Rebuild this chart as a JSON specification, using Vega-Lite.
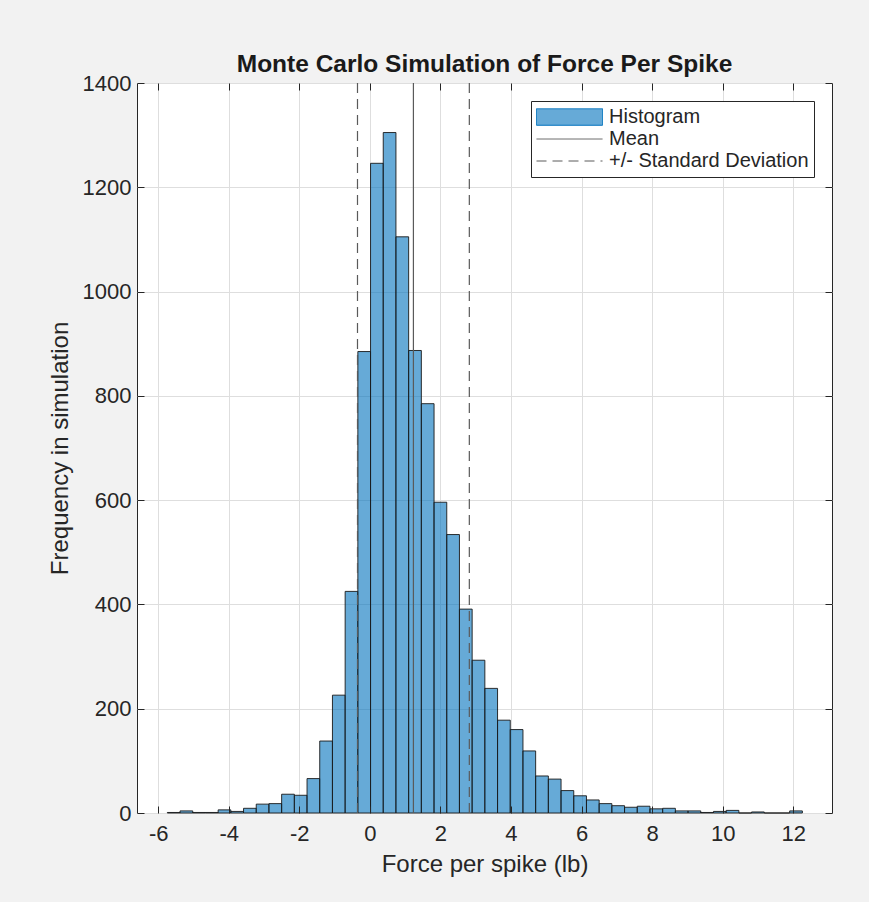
{
  "$schema": "https://vega.github.io/schema/vega-lite/v6.json",
  "autosize": {"type": "none"},
  "width": 695,
  "height": 730,
  "padding": {"left": 137, "top": 83, "right": 37, "bottom": 89},
  "background": "#f2f2f2",
  "config": {
    "view": {"fill": "white", "stroke": "#262626", "strokeWidth": 1},
    "font": "Liberation Sans"
  },
  "title": {
    "text": "Monte Carlo Simulation of Force Per Spike",
    "font": "Liberation Sans",
    "fontSize": 24.5,
    "fontWeight": "bold",
    "color": "#1a1a1a",
    "anchor": "middle",
    "frame": "group",
    "offset": -5
  },
  "datasets": {
    "bins": [
      {"bin_start": -5.74, "bin_end": -5.38, "count": 1},
      {"bin_start": -5.38, "bin_end": -5.02, "count": 4},
      {"bin_start": -5.02, "bin_end": -4.66, "count": 1},
      {"bin_start": -4.66, "bin_end": -4.30, "count": 1},
      {"bin_start": -4.30, "bin_end": -3.94, "count": 6},
      {"bin_start": -3.94, "bin_end": -3.58, "count": 3},
      {"bin_start": -3.58, "bin_end": -3.22, "count": 9},
      {"bin_start": -3.22, "bin_end": -2.86, "count": 17},
      {"bin_start": -2.86, "bin_end": -2.50, "count": 18},
      {"bin_start": -2.50, "bin_end": -2.14, "count": 36},
      {"bin_start": -2.14, "bin_end": -1.78, "count": 34},
      {"bin_start": -1.78, "bin_end": -1.42, "count": 66},
      {"bin_start": -1.42, "bin_end": -1.06, "count": 138},
      {"bin_start": -1.06, "bin_end": -0.70, "count": 226},
      {"bin_start": -0.70, "bin_end": -0.34, "count": 425},
      {"bin_start": -0.34, "bin_end": 0.02, "count": 885},
      {"bin_start": 0.02, "bin_end": 0.38, "count": 1246},
      {"bin_start": 0.38, "bin_end": 0.74, "count": 1305},
      {"bin_start": 0.74, "bin_end": 1.10, "count": 1105},
      {"bin_start": 1.10, "bin_end": 1.46, "count": 887},
      {"bin_start": 1.46, "bin_end": 1.82, "count": 785},
      {"bin_start": 1.82, "bin_end": 2.18, "count": 596},
      {"bin_start": 2.18, "bin_end": 2.54, "count": 534},
      {"bin_start": 2.54, "bin_end": 2.90, "count": 391},
      {"bin_start": 2.90, "bin_end": 3.26, "count": 293},
      {"bin_start": 3.26, "bin_end": 3.62, "count": 239},
      {"bin_start": 3.62, "bin_end": 3.98, "count": 178},
      {"bin_start": 3.98, "bin_end": 4.34, "count": 160},
      {"bin_start": 4.34, "bin_end": 4.70, "count": 119},
      {"bin_start": 4.70, "bin_end": 5.06, "count": 71},
      {"bin_start": 5.06, "bin_end": 5.42, "count": 65},
      {"bin_start": 5.42, "bin_end": 5.78, "count": 43},
      {"bin_start": 5.78, "bin_end": 6.14, "count": 33},
      {"bin_start": 6.14, "bin_end": 6.50, "count": 25},
      {"bin_start": 6.50, "bin_end": 6.86, "count": 18},
      {"bin_start": 6.86, "bin_end": 7.22, "count": 14},
      {"bin_start": 7.22, "bin_end": 7.58, "count": 11},
      {"bin_start": 7.58, "bin_end": 7.94, "count": 13},
      {"bin_start": 7.94, "bin_end": 8.30, "count": 8},
      {"bin_start": 8.30, "bin_end": 8.66, "count": 9},
      {"bin_start": 8.66, "bin_end": 9.02, "count": 4},
      {"bin_start": 9.02, "bin_end": 9.38, "count": 4},
      {"bin_start": 9.38, "bin_end": 9.74, "count": 1},
      {"bin_start": 9.74, "bin_end": 10.10, "count": 3},
      {"bin_start": 10.10, "bin_end": 10.46, "count": 5},
      {"bin_start": 10.46, "bin_end": 10.82, "count": 0},
      {"bin_start": 10.82, "bin_end": 11.18, "count": 2},
      {"bin_start": 11.18, "bin_end": 11.54, "count": 0},
      {"bin_start": 11.54, "bin_end": 11.90, "count": 0},
      {"bin_start": 11.90, "bin_end": 12.26, "count": 4}
    ],
    "mean": [{"stat": "Mean", "value": 1.235}],
    "sd": [
      {"stat": "+/- Standard Deviation", "value": -0.35},
      {"stat": "+/- Standard Deviation", "value": 2.82}
    ]
  },
  "layer": [
    {
      "data": {"name": "bins"},
      "mark": {"type": "bar", "fillOpacity": 0.6, "stroke": "#1a1a1a", "strokeWidth": 1, "strokeOpacity": 0.9},
      "encoding": {
        "x": {
          "field": "bin_start",
          "type": "quantitative",
          "scale": {"domain": [-6.6, 13.1], "nice": false, "zero": false},
          "axis": {
            "orient": "bottom",
            "zindex": 1,
            "values": [-6, -4, -2, 0, 2, 4, 6, 8, 10, 12],
            "grid": false,
            "domain": false,
            "ticks": true,
            "tickSize": -7,
            "tickColor": "#262626",
            "tickWidth": 1,
            "labelPadding": 17,
            "labelFont": "Liberation Sans",
            "labelFontSize": 22,
            "labelColor": "#262626",
            "labelExpr": "'' + datum.value",
            "title": "Force per spike (lb)",
            "titleFont": "Liberation Sans",
            "titleFontSize": 24,
            "titleFontWeight": "normal",
            "titleColor": "#262626",
            "titlePadding": 8
          }
        },
        "x2": {"field": "bin_end"},
        "y": {
          "field": "count",
          "type": "quantitative",
          "scale": {"domain": [0, 1400], "nice": false},
          "axis": {
            "orient": "left",
            "zindex": 1,
            "values": [0, 200, 400, 600, 800, 1000, 1200, 1400],
            "format": "d",
            "grid": false,
            "domain": false,
            "ticks": true,
            "tickSize": -7,
            "tickColor": "#262626",
            "tickWidth": 1,
            "labelPadding": 13,
            "labelFont": "Liberation Sans",
            "labelFontSize": 22,
            "labelColor": "#262626",
            "title": "Frequency in simulation",
            "titleFont": "Liberation Sans",
            "titleFontSize": 24,
            "titleFontWeight": "normal",
            "titleColor": "#262626",
            "titlePadding": 10
          }
        },
        "y2": {"datum": 0},
        "color": {
          "datum": "Histogram",
          "type": "nominal",
          "scale": {
            "domain": ["Histogram", "Mean", "+/- Standard Deviation"],
            "range": ["#0072BD", "#5a5a5a", "#5a5a5a"]
          },
          "legend": {
            "title": null,
            "orient": "top-right",
            "offset": 18,
            "symbolSize": 4356,
            "clipHeight": 22,
            "rowPadding": 0,
            "padding": 5,
            "strokeColor": "#262626",
            "fillColor": "white",
            "labelFont": "Liberation Sans",
            "labelFontSize": 20,
            "labelColor": "#262626",
            "labelOffset": 6,
            "labelLimit": 400,
            "encode": {
              "symbols": {
                "update": {
                  "shape": {"signal": "datum.value === 'Histogram' ? 'M-1,-0.25H1V0.25H-1Z' : 'M-1,0H1'"},
                  "stroke": {"signal": "datum.value === 'Histogram' ? '#262626' : '#777777'"},
                  "strokeDash": {"signal": "datum.value === '+/- Standard Deviation' ? [10, 6] : [1, 0]"},
                  "strokeWidth": {"value": 1},
                  "opacity": {"value": 1},
                  "fillOpacity": {"value": 0.6},
                  "strokeOpacity": {"value": 1}
                }
              }
            }
          }
        }
      }
    },
    {
      "data": {"name": "mean"},
      "mark": {"type": "rule", "strokeWidth": 1.2},
      "encoding": {
        "x": {
          "field": "value",
          "type": "quantitative",
          "axis": {
            "orient": "top",
            "zindex": 0,
            "values": [-6, -4, -2, 0, 2, 4, 6, 8, 10, 12],
            "grid": true,
            "gridColor": "#dedede",
            "gridWidth": 1,
            "labels": false,
            "domain": false,
            "ticks": true,
            "tickSize": -7,
            "tickColor": "#262626",
            "title": null
          }
        },
        "color": {
          "datum": "Mean",
          "type": "nominal",
          "legend": {
            "title": null,
            "orient": "top-right",
            "offset": 18,
            "symbolSize": 4356,
            "clipHeight": 22,
            "rowPadding": 0,
            "padding": 5,
            "strokeColor": "#262626",
            "fillColor": "white",
            "labelFont": "Liberation Sans",
            "labelFontSize": 20,
            "labelColor": "#262626",
            "labelOffset": 6,
            "labelLimit": 400,
            "encode": {
              "symbols": {
                "update": {
                  "shape": {"signal": "datum.value === 'Histogram' ? 'M-1,-0.25H1V0.25H-1Z' : 'M-1,0H1'"},
                  "stroke": {"signal": "datum.value === 'Histogram' ? '#262626' : '#777777'"},
                  "strokeDash": {"signal": "datum.value === '+/- Standard Deviation' ? [10, 6] : [1, 0]"},
                  "strokeWidth": {"value": 1},
                  "opacity": {"value": 1},
                  "fillOpacity": {"value": 0.6},
                  "strokeOpacity": {"value": 1}
                }
              }
            }
          }
        }
      }
    },
    {
      "data": {"name": "sd"},
      "mark": {"type": "rule", "strokeWidth": 1.2, "strokeDash": [10, 6]},
      "encoding": {
        "x": {"field": "value", "type": "quantitative", "axis": null},
        "y": {
          "datum": 0,
          "type": "quantitative",
          "axis": {
            "orient": "right",
            "zindex": 0,
            "values": [0, 200, 400, 600, 800, 1000, 1200, 1400],
            "grid": true,
            "gridColor": "#dedede",
            "gridWidth": 1,
            "labels": false,
            "domain": false,
            "ticks": true,
            "tickSize": -7,
            "tickColor": "#262626",
            "title": null
          }
        },
        "y2": {"datum": 1400},
        "color": {
          "datum": "+/- Standard Deviation",
          "type": "nominal",
          "legend": {
            "title": null,
            "orient": "top-right",
            "offset": 18,
            "symbolSize": 4356,
            "clipHeight": 22,
            "rowPadding": 0,
            "padding": 5,
            "strokeColor": "#262626",
            "fillColor": "white",
            "labelFont": "Liberation Sans",
            "labelFontSize": 20,
            "labelColor": "#262626",
            "labelOffset": 6,
            "labelLimit": 400,
            "encode": {
              "symbols": {
                "update": {
                  "shape": {"signal": "datum.value === 'Histogram' ? 'M-1,-0.25H1V0.25H-1Z' : 'M-1,0H1'"},
                  "stroke": {"signal": "datum.value === 'Histogram' ? '#262626' : '#777777'"},
                  "strokeDash": {"signal": "datum.value === '+/- Standard Deviation' ? [10, 6] : [1, 0]"},
                  "strokeWidth": {"value": 1},
                  "opacity": {"value": 1},
                  "fillOpacity": {"value": 0.6},
                  "strokeOpacity": {"value": 1}
                }
              }
            }
          }
        }
      }
    }
  ],
  "resolve": {"axis": {"x": "independent", "y": "independent"}}
}
